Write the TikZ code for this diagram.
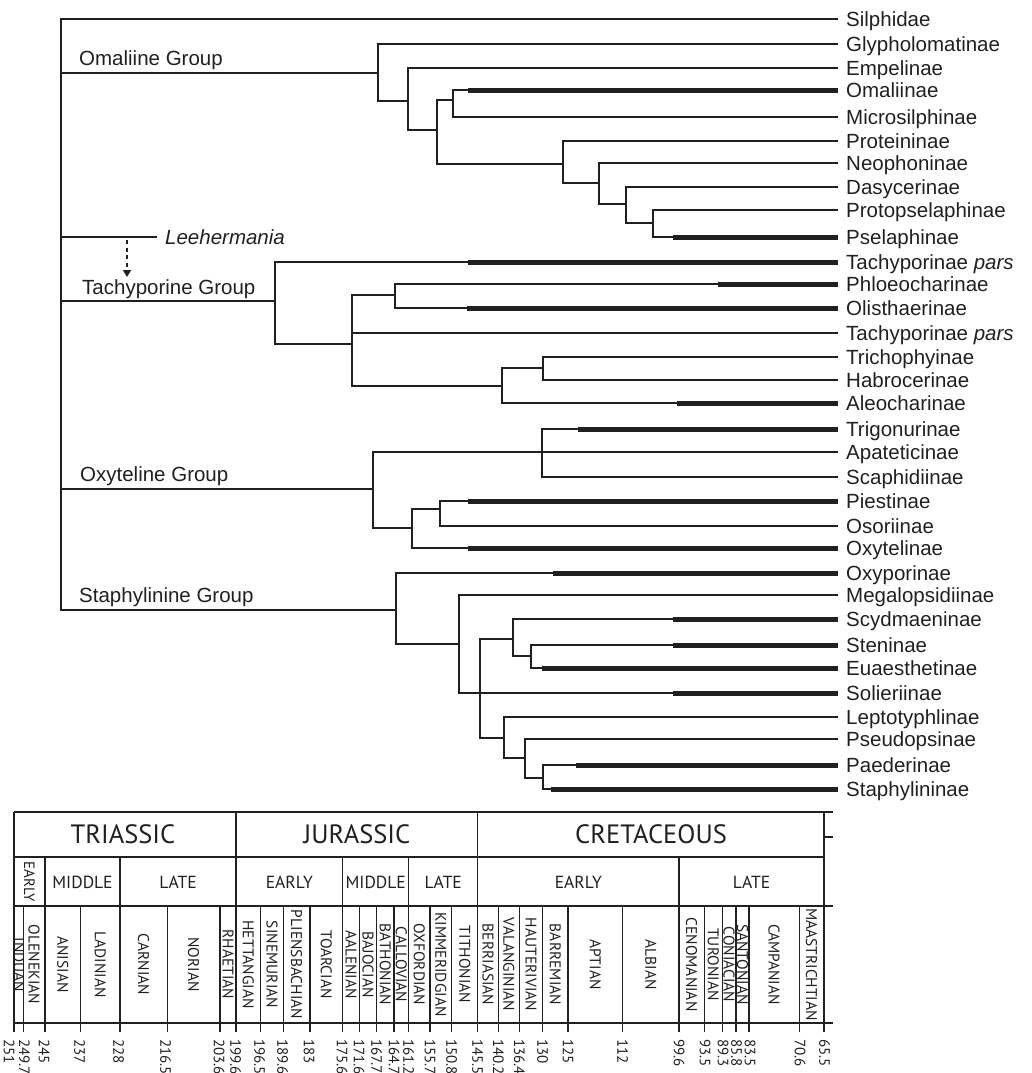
\documentclass[tikz,border=0pt]{standalone}
\usepackage{fontspec}
\setmainfont{Liberation Sans}
\newfontfamily\tsfont{PT Sans}
\usetikzlibrary{arrows.meta}
\definecolor{ink}{HTML}{231F20}
\begin{document}
\begin{tikzpicture}[x=1pt,y=-1pt,line join=miter,
  br/.style={draw=ink,line width=1.9pt},
  fossil/.style={draw=ink,line width=5pt},
  leaf/.style={anchor=west,inner xsep=8pt,inner ysep=0pt,text height=19pt,text depth=4pt,
    font=\fontsize{20.5}{22}\selectfont,text=ink},
  grp/.style={anchor=base west,inner sep=0pt,font=\fontsize{20.5}{22}\selectfont,text=ink},
  ts/.style={draw=ink,line width=1.1pt},
  period/.style={font=\tsfont\fontsize{26.5}{28}\selectfont,text=ink,inner sep=0pt},
  epoch/.style={font=\tsfont\fontsize{17.5}{19}\selectfont,text=ink,inner sep=0pt},
  stage/.style={font=\tsfont\fontsize{15.5}{17}\selectfont,text=ink,rotate=-90,inner sep=0pt},
  age/.style={font=\tsfont\fontsize{15}{16}\selectfont,text=ink,rotate=-90,anchor=west,inner sep=0pt},
]
\useasboundingbox (0,0) rectangle (1032,1073);

% ---------- leaves ----------
\node[leaf] (silph)   at (838,19)  {Silphidae};
\node[leaf] (glyph)   at (838,44)  {Glypholomatinae};
\node[leaf] (empel)   at (838,68)  {Empelinae};
\node[leaf] (omal)    at (838,90)  {Omaliinae};
\node[leaf] (micro)   at (838,117) {Microsilphinae};
\node[leaf] (prot)    at (838,141) {Proteininae};
\node[leaf] (neoph)   at (838,163) {Neophoninae};
\node[leaf] (dasy)    at (838,187) {Dasycerinae};
\node[leaf] (protops) at (838,210) {Protopselaphinae};
\node[leaf] (psel)    at (838,237) {Pselaphinae};
\node[leaf] (tachyA)  at (838,262) {Tachyporinae \textit{pars}};
\node[leaf] (phloeo)  at (838,284) {Phloeocharinae};
\node[leaf] (olist)   at (838,308) {Olisthaerinae};
\node[leaf] (tachyB)  at (838,333) {Tachyporinae \textit{pars}};
\node[leaf] (tricho)  at (838,357) {Trichophyinae};
\node[leaf] (habro)   at (838,380) {Habrocerinae};
\node[leaf] (aleo)    at (838,403) {Aleocharinae};
\node[leaf] (trigo)   at (838,429) {Trigonurinae};
\node[leaf] (apat)    at (838,452) {Apateticinae};
\node[leaf] (scaph)   at (838,477) {Scaphidiinae};
\node[leaf] (piest)   at (838,501) {Piestinae};
\node[leaf] (osor)    at (838,526) {Osoriinae};
\node[leaf] (oxytel)  at (838,548) {Oxytelinae};
\node[leaf] (oxypor)  at (838,573) {Oxyporinae};
\node[leaf] (megal)   at (838,595) {Megalopsidiinae};
\node[leaf] (scyd)    at (838,619) {Scydmaeninae};
\node[leaf] (sten)    at (838,645) {Steninae};
\node[leaf] (euaes)   at (838,668) {Euaesthetinae};
\node[leaf] (solier)  at (838,693) {Solieriinae};
\node[leaf] (lepto)   at (838,717) {Leptotyphlinae};
\node[leaf] (pseudo)  at (838,739) {Pseudopsinae};
\node[leaf] (paed)    at (838,765) {Paederinae};
\node[leaf] (staph)   at (838,789) {Staphylininae};
\node[leaf,font=\fontsize{20.5}{22}\selectfont\itshape] (lee) at (157,237) {Leehermania};

% ---------- group labels ----------
\node[grp] (gOmal)  at (79,66)  {Omaliine Group};
\node[grp] (gTachy) at (82,294) {Tachyporine Group};
\node[grp] (gOxy)   at (80,481) {Oxyteline Group};
\node[grp] (gStaph) at (79,602) {Staphylinine Group};

% ---------- internal nodes ----------
\coordinate (R)  at (61,300);
\coordinate (A)  at (378,73);
\coordinate (B)  at (408,101);
\coordinate (C)  at (437,130);
\coordinate (D)  at (453,100);
\coordinate (E)  at (563,164);
\coordinate (F)  at (599,183);
\coordinate (G)  at (626,204);
\coordinate (H)  at (653,223);
\coordinate (T)  at (275,301);
\coordinate (T2) at (352,344);
\coordinate (T3) at (395,295);
\coordinate (T4) at (502,386);
\coordinate (T5) at (543,368);
\coordinate (O)  at (373,489);
\coordinate (O2) at (542,452);
\coordinate (O3) at (412,528);
\coordinate (O4) at (440,509);
\coordinate (S)  at (396,610);
\coordinate (S2) at (459,644);
\coordinate (S3) at (480,693);
\coordinate (S4) at (513,639);
\coordinate (S5) at (531,656);
\coordinate (S6) at (504,738);
\coordinate (S7) at (525,758);
\coordinate (S8) at (543,778);

% ---------- branches ----------
\draw[br] (silph.west) -| (R) |- (S);
\draw[br] (R |- A) -- (A);
\draw[br] (R |- lee.west) -- (lee.west);
\draw[br] (R |- T) -- (T);
\draw[br] (R |- O) -- (O);

\draw[br] (glyph.west) -| (A) |- (B);
\draw[br] (empel.west) -| (B) |- (C);
\draw[br] (D) -| (C) |- (E);
\draw[br] (omal.west) -| (D) |- (micro.west);
\draw[br] (prot.west) -| (E) |- (F);
\draw[br] (neoph.west) -| (F) |- (G);
\draw[br] (dasy.west) -| (G) |- (H);
\draw[br] (protops.west) -| (H) |- (psel.west);

\draw[br] (tachyA.west) -| (T) |- (T2);
\draw[br] (T3) -| (T2) |- (T4);
\draw[br] (T2 |- tachyB.west) -- (tachyB.west);
\draw[br] (phloeo.west) -| (T3) |- (olist.west);
\draw[br] (T5) -| (T4) |- (aleo.west);
\draw[br] (tricho.west) -| (T5) |- (habro.west);

\draw[br] (O2) -| (O) |- (O3);
\draw[br] (trigo.west) -| (O2) |- (scaph.west);
\draw[br] (O2) -- (apat.west);
\draw[br] (O4) -| (O3) |- (oxytel.west);
\draw[br] (piest.west) -| (O4) |- (osor.west);

\draw[br] (oxypor.west) -| (S) |- (S2);
\draw[br] (megal.west) -| (S2) |- (S3);
\draw[br] (S4) -| (S3) |- (S6);
\draw[br] (S3) -- (solier.west);
\draw[br] (scyd.west) -| (S4) |- (S5);
\draw[br] (sten.west) -| (S5) |- (euaes.west);
\draw[br] (lepto.west) -| (S6) |- (S7);
\draw[br] (pseudo.west) -| (S7) |- (S8);
\draw[br] (paed.west) -| (S8) |- (staph.west);

% ---------- fossil ranges ----------
\foreach \n/\x in {omal/468,psel/673,tachyA/468,phloeo/718,olist/467,aleo/677,
  trigo/578,piest/468,oxytel/468,oxypor/553,scyd/673,sten/673,euaes/542,
  solier/673,paed/576,staph/551}
  \draw[fossil] (\n.west) -- ++({\x-838},0);

% ---------- Leehermania arrow ----------
\coordinate (arrtop) at (127,240);
\coordinate (arrbot) at (127,277);
\draw[draw=ink,line width=1.9pt,dash pattern=on 4pt off 3.5pt,
  -{Triangle[width=8pt,length=7pt]}] (arrtop) -- (arrbot);

% ---------- time scale ----------
\draw[ts] (14,812) -- (833,812);
\draw[ts] (14,857) -- (824,857);
\draw[ts] (14,906) -- (833,906);
\draw[ts] (14,1023) -- (833,1023);
\draw[ts] (824,837) -- (833,837);
\foreach \x in {14,236,477.7,824} \draw[ts] (\x,812) -- (\x,1032);
\foreach \x in {45,120,342.7,408.7,679} \draw[ts] (\x,857) -- (\x,1032);
\foreach \x in {23.3,80.7,167.3,220,260.7,283.3,310,359.3,376.7,394,430,451.7,
  498.3,519.3,542.7,568,622.7,704.3,722.3,736,749,799.3}
  \draw[ts] (\x,906) -- (\x,1032);

\node[period] (triassic) at (123,834) {TRIASSIC};
\node[period] (jurassic) at (357,834) {JURASSIC};
\node[period] (cretaceous) at (651,834) {CRETACEOUS};

\node[epoch,rotate=-90,font=\tsfont\fontsize{15}{16}\selectfont] (trE) at (29.5,881.5) {EARLY};
\node[epoch] (trM) at (82.5,882) {MIDDLE};
\node[epoch] (trL) at (178,882) {LATE};
\node[epoch] (juE) at (289.3,882) {EARLY};
\node[epoch] (juM) at (375.7,882) {MIDDLE};
\node[epoch] (juL) at (443.2,882) {LATE};
\node[epoch] (crE) at (578.3,882) {EARLY};
\node[epoch] (crL) at (751.5,882) {LATE};

\begin{scope}
  \clip (14,906) rectangle (23.3,1023);
  \node[stage] (induan) at (19,965) {INDUAN};
\end{scope}
\foreach \a/\b/\t in {23.3/45/OLENEKIAN,45/80.7/ANISIAN,80.7/120/LADINIAN,
  120/167.3/CARNIAN,167.3/220/NORIAN,220/236/RHAETIAN,236/260.7/HETTANGIAN,
  260.7/283.3/SINEMURIAN,283.3/310/PLIENSBACHIAN,310/342.7/TOARCIAN,
  342.7/359.3/AALENIAN,359.3/376.7/BAJOCIAN,376.7/394/BATHONIAN,
  394/408.7/CALLOVIAN,408.7/430/OXFORDIAN,430/451.7/KIMMERIDGIAN,
  451.7/477.7/TITHONIAN,477.7/498.3/BERRIASIAN,498.3/519.3/VALANGINIAN,
  519.3/542.7/HAUTERIVIAN,542.7/568/BARREMIAN,568/622.7/APTIAN,
  622.7/679/ALBIAN,679/704.3/CENOMANIAN,704.3/722.3/TURONIAN,
  722.3/736/CONIACIAN,736/749/SANTONIAN,749/799.3/CAMPANIAN,
  799.3/824/MAASTRICHTIAN}
  \node[stage] (st-\t) at ({(\a+\b)/2},964.5) {\t};

\foreach \x/\t [count=\i] in {9/251,24.5/249.7,44/245,79.5/237,118.5/228,165.5/216.5,
  219/203.6,235.5/199.6,259.5/196.5,282.5/189.6,309/183,342/175.6,359/171.6,
  376.5/167.7,394/164.7,408.7/161.2,430/155.7,451.7/150.8,477.7/145.5,
  498.3/140.2,519.3/136.4,542.7/130,568/125,622.7/112,679/99.6,705/93.5,
  723/89.3,736.5/85.8,750/83.5,800/70.6,824.5/65.5}
  \node[age] (age\i) at (\x,1039) {\t};
\end{tikzpicture}
\end{document}
